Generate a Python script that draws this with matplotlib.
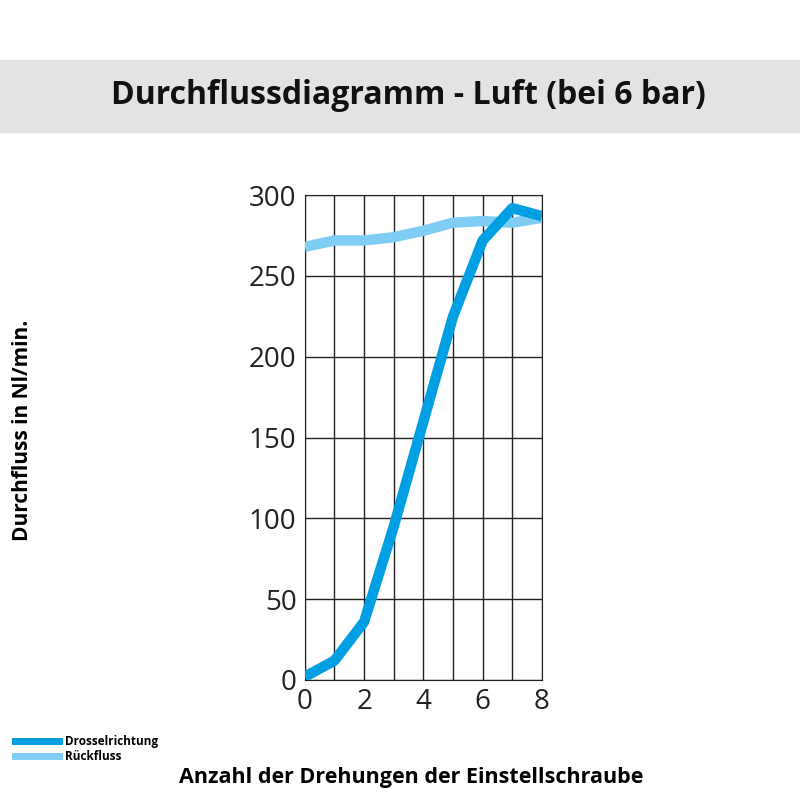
import matplotlib
matplotlib.use("Agg")
import matplotlib.pyplot as plt
from matplotlib.patches import Rectangle
from matplotlib.lines import Line2D

turns = [0, 1, 2, 3, 4, 5, 6, 7, 8]
drossel = [2, 12, 36, 95, 160, 225, 272, 292, 287]
rueck = [268, 272, 272, 274, 278, 283, 284, 283, 286]

DARK = "#009fe3"
LIGHT = "#7fcdf4"

plt.rcParams["font.family"] = ["Open Sans", "DejaVu Sans"]
fig = plt.figure(figsize=(8, 8), dpi=100)

# title band
fig.patches.append(Rectangle((0, 0.835), 1, 0.09, transform=fig.transFigure,
                             color="#e3e3e3", zorder=0))
fig.text(0.51, 0.88, "Durchflussdiagramm - Luft (bei 6 bar)", ha="center", va="center",
         fontsize=23, fontweight="bold", color="#111111")

ax = fig.add_axes([0.381, 0.15, 0.2965, 0.606])
ax.plot(turns, rueck, color=LIGHT, lw=7.5, solid_capstyle="butt", zorder=3)
ax.plot(turns, drossel, color=DARK, lw=7.5, solid_capstyle="butt", zorder=4)
ax.set_xlim(0, 8)
ax.set_ylim(0, 300)
ax.set_xticks(range(0, 9, 2))
ax.set_xticks(range(0, 9), minor=True)
ax.set_yticks(range(0, 301, 50))
ax.grid(True, which="both", color="#222222", lw=1)
ax.tick_params(which="both", length=0, labelsize=20, colors="#222222", pad=6)
for s in ax.spines.values():
    s.set_color("#222222")

fig.text(0.028, 0.4625, "Durchfluss in Nl/min.", rotation=90, ha="center", va="center",
         fontsize=15, fontweight="bold")
fig.text(0.514, 0.028, "Anzahl der Drehungen der Einstellschraube", ha="center", va="center",
         fontsize=15.5, fontweight="bold")

handles = [Line2D([], [], color=DARK, lw=5), Line2D([], [], color=LIGHT, lw=5)]
fig.legend(handles, ["Drosselrichtung", "Rückfluss"], loc="lower left",
           bbox_to_anchor=(0.005, 0.033), frameon=False,
           handlelength=3.8, handletextpad=0.5, labelspacing=0.15,
           prop={"weight": "bold", "size": 8.5})

fig.savefig("out.png", dpi=100)
